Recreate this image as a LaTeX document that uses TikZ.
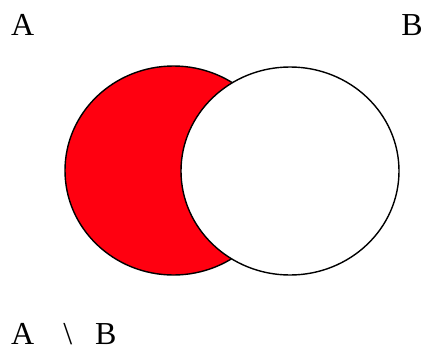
\documentclass[tikz,border=0pt]{standalone}
\usepackage{fontspec}
\setmainfont{Liberation Serif}
\definecolor{setred}{RGB}{255,0,16}

\begin{document}
\begin{tikzpicture}[
  x=1pt, y=-1pt,
  font=\fontsize{32}{38}\selectfont,
  every node/.style={inner sep=0pt},
  setline/.style={draw=black, line width=1.4pt}
]
\useasboundingbox (0,0) rectangle (426,351);
\coordinate (cA) at (173.5,170.5);
\coordinate (cB) at (290,171);
% A minus B: fill A, then cover it with B
\fill[setred] (cA) ellipse [x radius=108.5, y radius=104.5];
\draw[setline] (cA) ellipse [x radius=108.5, y radius=104.5];
\filldraw[setline, fill=white] (cB) ellipse [x radius=109, y radius=104];
\node[anchor=base west] (labA) at (11,35) {A};
\node[anchor=base east] (labB) at (423,35) {B};
\node[anchor=base west] (diff) at (11,344) {A\hspace{29pt}\textbackslash\hspace{23pt}B};
\end{tikzpicture}
\end{document}
